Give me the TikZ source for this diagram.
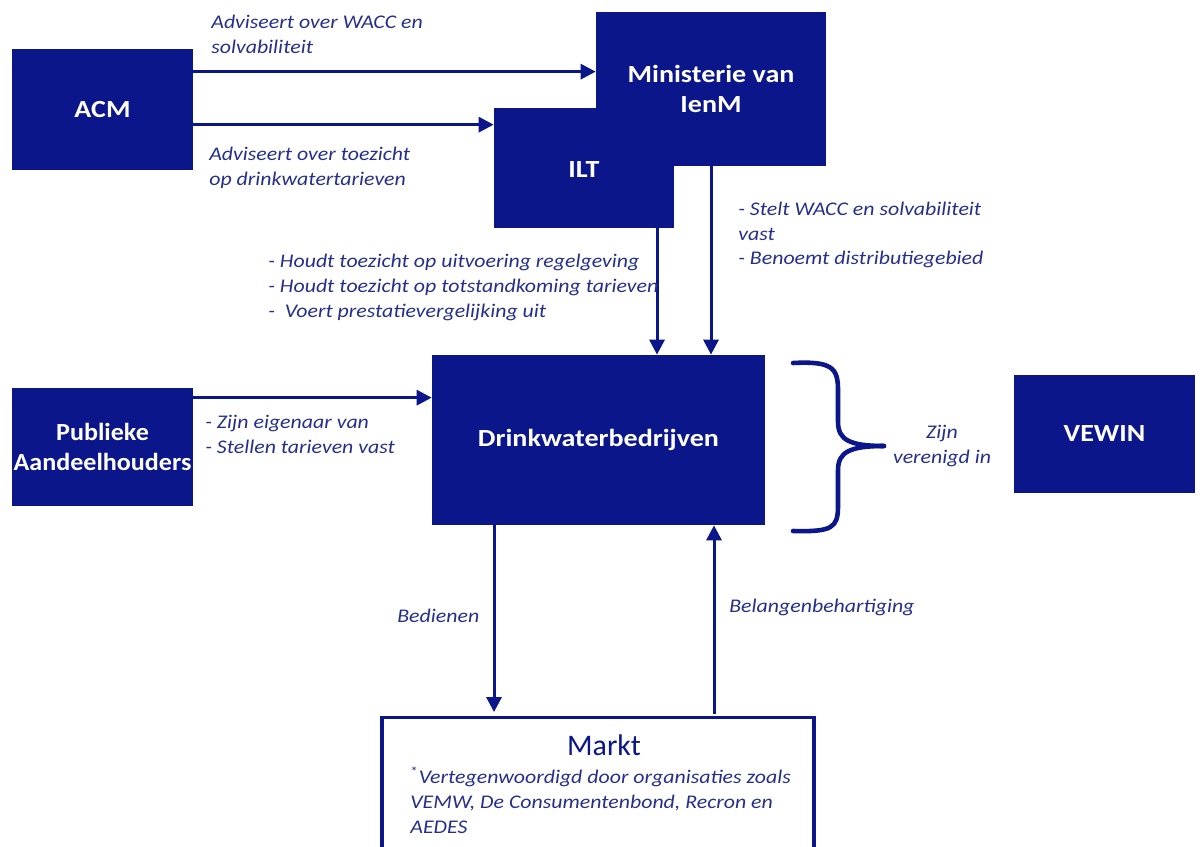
\documentclass[tikz,border=0pt]{standalone}
\usepackage{fontspec}
\setmainfont{Carlito}
\newfontfamily\labfont[FakeStretch=1.13]{Carlito}
\newfontfamily\boxfont[FakeStretch=1.14]{Carlito}
\newfontfamily\boxfontnarrow[FakeStretch=1.06]{Carlito}
\usetikzlibrary{arrows.meta,calc}
\definecolor{navy}{RGB}{11,22,138}
\definecolor{lbl}{RGB}{38,48,140}
\tikzset{
  box/.style={rectangle,fill=navy,draw=none,text=white,font=\boxfont\fontsize{14}{17}\selectfont\bfseries,align=center,inner sep=0pt},
  arr/.style={draw=navy,line width=1.7pt,-{Triangle[length=0.3cm,width=0.3cm]}},
  lab/.style={text=lbl,font=\labfont\fontsize{11}{14.2}\selectfont\itshape,align=left,inner sep=0pt,anchor=west}
}
\begin{document}
\begin{tikzpicture}[x=0.02cm,y=-0.02cm]
\useasboundingbox (0,0) rectangle (1202,847);
\fill[white] (0,0) rectangle (1202,847);
\clip (0,0) rectangle (1202,847);
% boxes
\node[box,minimum width=3.62cm,minimum height=2.42cm] (acm) at (102.5,109.5) {ACM};
\node[box,minimum width=3.6cm,minimum height=2.4cm] (ilt) at (584,168) {};
\node[box,minimum width=4.6cm,minimum height=3.08cm] (min) at (711,89) {Ministerie van\\IenM};
\node[box] (iltt) at (584,170) {ILT};
\node[box,minimum width=6.66cm,minimum height=3.4cm] (drink) at (598.5,440) {Drinkwaterbedrijven};
\node[box,font=\boxfontnarrow\fontsize{14}{17}\selectfont\bfseries,text width=3.56cm,minimum width=3.62cm,minimum height=2.36cm] (pub) at (102.5,447) {Publieke\\Aandeelhouders};
\node[box,minimum width=3.62cm,minimum height=2.36cm] (vewin) at (1104.5,434) {VEWIN};
\node[rectangle,draw=navy,line width=2.2pt,fill=white,minimum width=8.64cm,minimum height=3.66cm,inner sep=0pt] (markt) at (598,809) {};
\node[text=navy,font=\fontsize{17}{20}\selectfont,inner sep=0pt] (mtitle) at (604,745) {Markt};
\node[lab] (mtext) at (410,800) {{\upshape\textsuperscript{*}}Vertegenwoordigd door organisaties zoals\\VEMW, De Consumentenbond, Recron en\\AEDES};
% connectors
\coordinate (a1) at ([shift={(0,23)}]acm.north east);
\coordinate (a2) at ([shift={(0,76)}]acm.north east);
\draw[arr] (a1) -- (a1 -| min.west);
\draw[arr] (a2) -- (a2 -| ilt.west);
\coordinate (i1) at ([shift={(73,0)}]ilt.south);
\draw[arr] (i1) -- (i1 |- drink.north);
\draw[arr] (min.south) -- (min.south |- drink.north);
\coordinate (p1) at ([shift={(0,10)}]pub.north east);
\draw[arr] (p1) -- (p1 -| drink.west);
\coordinate (d1) at ([shift={(-104.5,0)}]drink.south);
\draw[arr,shorten >=2pt] (d1) -- (d1 |- markt.north);
\coordinate (m1) at ([shift={(116,-2)}]markt.north);
\draw[arr] (m1) -- (m1 |- drink.south);
% brace
\draw[navy,line width=2.6pt,line cap=round]
  (793,363) .. controls (832,361) and (838,368) .. (838,390) -- (838,422)
  .. controls (838,440) and (850,446) .. (884,446);
\draw[navy,line width=2.6pt,line cap=round]
  (884,446) .. controls (850,446) and (838,452) .. (838,470) -- (838,506)
  .. controls (838,528) and (832,532) .. (793,531);
% labels
\node[lab] (l1) at (211,34.5) {Adviseert over WACC en\\solvabiliteit};
\node[lab] (l2) at (209,167.5) {Adviseert over toezicht\\op drinkwatertarieven};
\node[lab] (l3) at (268,287) {- Houdt toezicht op uitvoering regelgeving\\- Houdt toezicht op totstandkoming tarieven\\-\ \ Voert prestatievergelijking uit};
\node[lab] (l4) at (738,235) {- Stelt WACC en solvabiliteit\\vast\\- Benoemt distributiegebied};
\node[lab] (l5) at (205,434.5) {- Zijn eigenaar van\\- Stellen tarieven vast};
\node[lab,align=center,anchor=center] (l6) at (942,446) {Zijn\\verenigd in};
\node[lab] (l7) at (397,616) {Bedienen};
\node[lab] (l8) at (729,607) {Belangenbehartiging};
\end{tikzpicture}
\end{document}
